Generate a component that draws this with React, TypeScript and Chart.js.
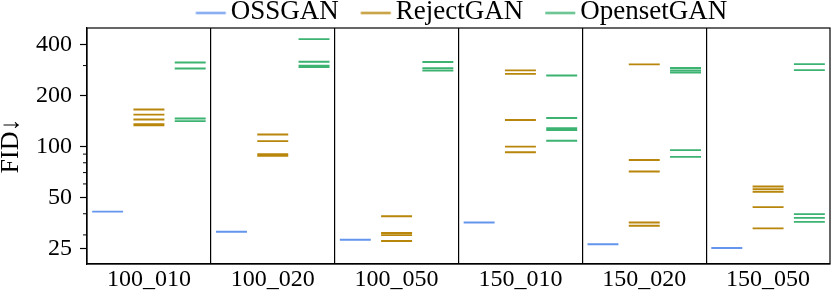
import React, { useEffect, useRef } from 'react';
import { Chart, registerables } from 'chart.js';

Chart.register(...registerables);

// ---------------- data ----------------
const categories = ['100_010', '100_020', '100_050', '150_010', '150_020', '150_050'];
const seriesLabels = ['OSSGAN', 'RejectGAN', 'OpensetGAN'];

// FID of each run, per category
const ossganFID = [[41.2], [31.3], [28.1], [35.5], [26.4], [25.1]];
const rejectganFID = [
  [165, 154, 144, 135, 133],
  [117.5, 107.4, 90, 88],
  [38.7, 30.8, 29.9, 27.6],
  [281, 268, 143, 99.6, 92.4],
  [305, 83, 71, 35.5, 34],
  [57.9, 55.9, 53.9, 43.8, 32.8],
];
const opensetganFID = [
  [313, 288, 146, 141],
  [430, 316, 299, 294],
  [315, 289, 280],
  [262, 147, 128, 125, 108],
  [290, 281, 273, 95, 86.7],
  [306, 282, 39.8, 37.8, 35.8],
];

const yMajorTicks = [25, 50, 100, 200, 400];
const yMinorTicks = [30, 40, 60, 70, 80, 90, 300];
const yMin = 20.2;
const yMax = 500;
const yTitle = 'FID↓';

// ---------------- styles ----------------
const seriesColors = ['#6495ED', '#B8860B', '#3CB371'];
const seriesOffsets = [-1 / 3, 0, 1 / 3];
const HALF_WIDTH = 0.125;
const FONT = 'Liberation Serif';
const TICK_SIZE = 24;
const TITLE_SIZE = 26;
const LEGEND_SIZE = 27;
const LEGEND_LINE = 30; // handle length
const LEGEND_GAP = 5; // handle -> text
const LEGEND_BOX = 43.5;
const LEGEND_PAD = 0;
const LEGEND_IMG_W = 80;
const LEGEND_IMG_H = 10;

function buildSegments(values: number[][], offset: number) {
  const pts: { x: number; y: number | null }[] = [];
  values.forEach((runs, i) => {
    const c = i + 0.5 + offset;
    runs.forEach((v) => {
      pts.push({ x: c - HALF_WIDTH, y: v }, { x: c + HALF_WIDTH, y: v }, { x: c + HALF_WIDTH, y: null });
    });
  });
  return pts;
}

function legendHandle(color: string) {
  const c = document.createElement('canvas');
  c.width = LEGEND_IMG_W;
  c.height = LEGEND_IMG_H;
  const ctx = c.getContext('2d')!;
  const start = LEGEND_BOX / 2 + LEGEND_SIZE / 2 - LEGEND_LINE - LEGEND_GAP + LEGEND_IMG_W / 2;
  ctx.strokeStyle = color;
  ctx.lineWidth = 2;
  ctx.beginPath();
  ctx.moveTo(start, LEGEND_IMG_H / 2 + 1.5);
  ctx.lineTo(start + LEGEND_LINE, LEGEND_IMG_H / 2 + 1.5);
  ctx.stroke();
  return c;
}

const decorPlugin = {
  id: 'decor',
  beforeLayout(chart: any) {
    const lg = chart.legend;
    if (lg && !lg._fixedFit) {
      const orig = lg.fit.bind(lg);
      lg.fit = function () {
        orig();
        this.height = 28;
      };
      lg._fixedFit = true;
    }
  },
  afterLayout(chart: any) {
    const lg = chart.legend;
    if (lg) {
      const inset = LEGEND_BOX + LEGEND_SIZE / 2 - LEGEND_LINE - LEGEND_GAP;
      lg.left = chart.chartArea.left - inset + 6;
      lg.right = chart.chartArea.right;
      lg.top = -2;
    }
  },
  afterDraw(chart: any) {
    const { ctx, chartArea } = chart;
    const y = chart.scales.y;
    ctx.save();
    ctx.strokeStyle = '#000';
    ctx.lineWidth = 1.2;
    ctx.strokeRect(chartArea.left, chartArea.top, chartArea.right - chartArea.left, chartArea.bottom - chartArea.top);
    ctx.lineWidth = 1;
    ctx.beginPath();
    yMinorTicks.forEach((v) => {
      const py = y.getPixelForValue(v);
      ctx.moveTo(chartArea.left - 4, py);
      ctx.lineTo(chartArea.left, py);
    });
    ctx.stroke();
    ctx.restore();
  },
};

export default function App() {
  const ref = useRef<HTMLCanvasElement | null>(null);

  useEffect(() => {
    document.body.style.margin = '0';
    if (!ref.current) return;
    const allSeries = [ossganFID, rejectganFID, opensetganFID];
    const handles = seriesColors.map(legendHandle);

    const chart = new Chart(ref.current, {
      type: 'line',
      data: {
        datasets: allSeries.map((vals, s) => ({
          label: seriesLabels[s],
          data: buildSegments(vals, seriesOffsets[s]),
          borderColor: seriesColors[s],
          backgroundColor: seriesColors[s],
          borderWidth: 1.9,
          pointRadius: 0,
          pointHoverRadius: 0,
          fill: false,
          spanGaps: false,
          tension: 0,
        })),
      },
      options: {
        animation: false,
        responsive: false,
        devicePixelRatio: 1,
        layout: { padding: { top: 0, right: 1, bottom: 0, left: 0 } },
        plugins: {
          tooltip: { enabled: false },
          legend: {
            position: 'top',
            labels: {
              usePointStyle: true,
              pointStyleWidth: LEGEND_BOX,
              boxHeight: LEGEND_SIZE,
              padding: LEGEND_PAD,
              color: '#000',
              font: { family: FONT, size: LEGEND_SIZE, lineHeight: 1 },
              generateLabels: (ch: any) =>
                (Chart as any).defaults.plugins.legend.labels
                  .generateLabels(ch)
                  .map((l: any, i: number) => ({ ...l, pointStyle: handles[i] })),
            },
          },
        },
        scales: {
          x: {
            type: 'linear',
            min: 0,
            max: categories.length,
            afterBuildTicks: (s: any) => {
              const t: { value: number }[] = [];
              categories.forEach((_, i) => t.push({ value: i }, { value: i + 0.5 }));
              t.push({ value: categories.length });
              s.ticks = t;
            },
            afterFit: (s: any) => {
              s.height = 30;
            },
            ticks: {
              autoSkip: false,
              maxRotation: 0,
              minRotation: 0,
              padding: 1,
              color: '#000',
              font: { family: FONT, size: TICK_SIZE },
              callback: (v: any) => {
                const i = Number(v) - 0.5;
                return Number.isInteger(i) ? categories[i] : '';
              },
            },
            grid: {
              drawTicks: false,
              drawOnChartArea: true,
              lineWidth: 1.2,
              color: (ctx: any) => {
                const v = ctx.tick ? ctx.tick.value : -1;
                return Number.isInteger(v) && v > 0 && v < categories.length ? '#000' : 'rgba(0,0,0,0)';
              },
            },
            border: { display: true, color: '#000', width: 1.2 },
          },
          y: {
            type: 'logarithmic',
            min: yMin,
            max: yMax,
            afterBuildTicks: (s: any) => {
              s.ticks = yMajorTicks.map((v) => ({ value: v }));
            },
            afterFit: (s: any) => {
              s.width = 87;
            },
            ticks: {
              autoSkip: false,
              padding: 8,
              color: '#000',
              font: { family: FONT, size: TICK_SIZE },
              callback: (v: any) => String(v),
            },
            grid: {
              drawOnChartArea: false,
              drawTicks: true,
              tickLength: 7,
              tickColor: '#000',
              tickWidth: 1.2,
            },
            border: { display: true, color: '#000', width: 1.2 },
            title: {
              display: true,
              text: yTitle,
              color: '#000',
              font: { family: FONT, size: TITLE_SIZE, lineHeight: '22px' },
              padding: { top: 0, bottom: 0 },
            },
          },
        },
      },
      plugins: [decorPlugin],
    } as any);

    return () => chart.destroy();
  }, []);

  return (
    <div style={{ width: 831, height: 294 }}>
      <canvas ref={ref} width={831} height={294} />
    </div>
  );
}
